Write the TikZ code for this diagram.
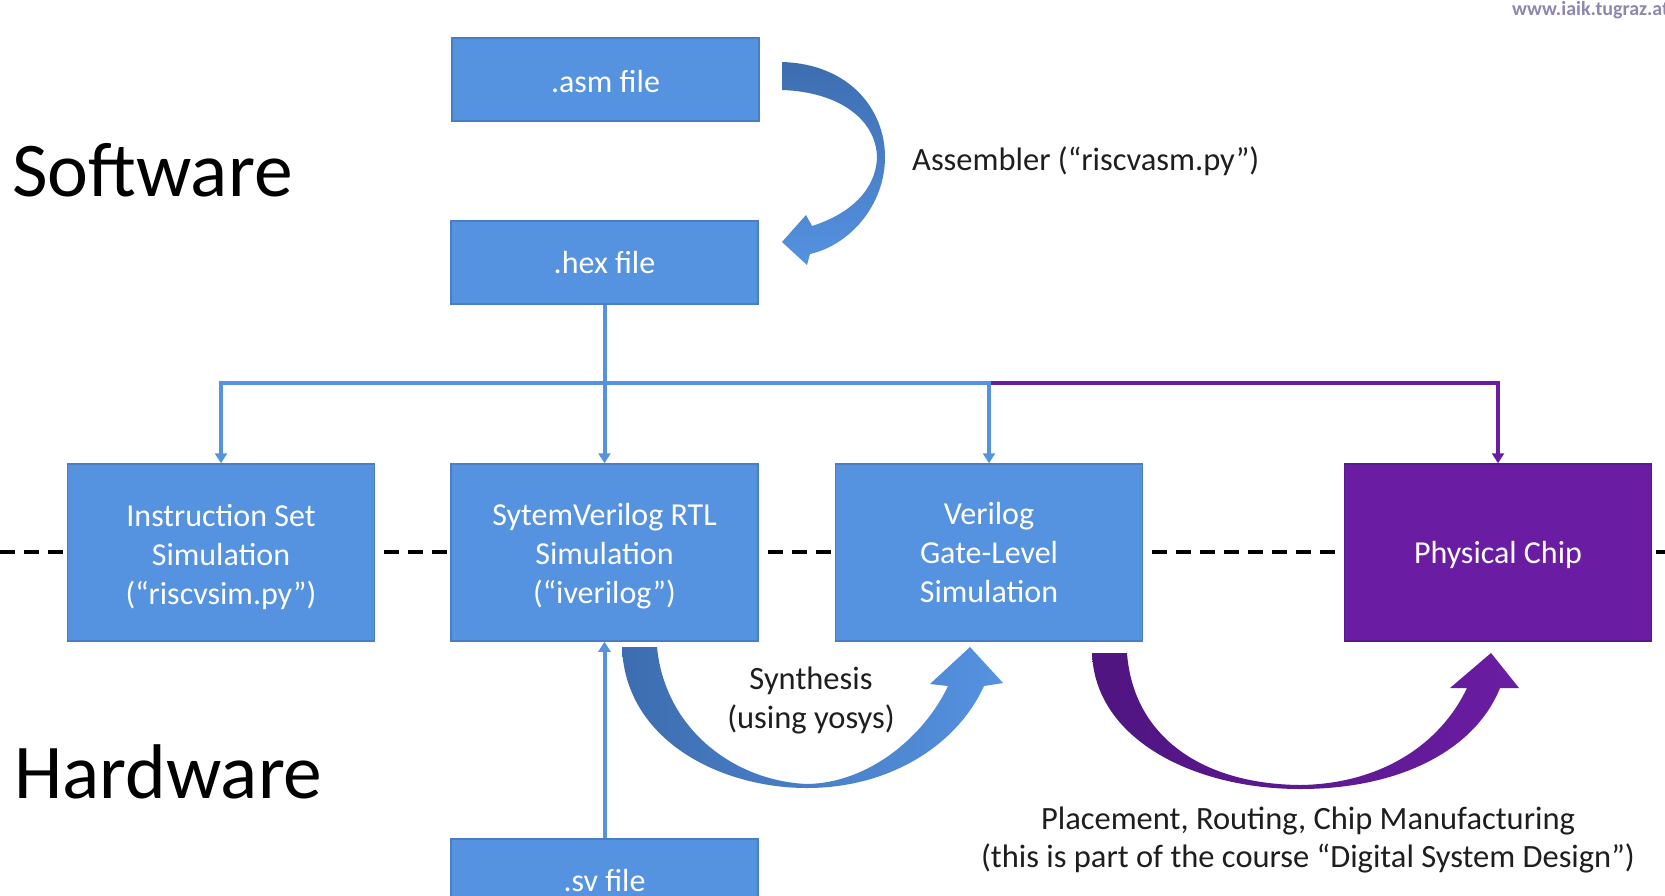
\documentclass[tikz,border=0pt]{standalone}
\usepackage{fontspec}
\setmainfont{Carlito}
\usetikzlibrary{arrows.meta}
\definecolor{boxblue}{HTML}{5592E0}
\definecolor{boxedge}{HTML}{4A7EC4}
\definecolor{darkblue}{HTML}{3D6DB0}
\definecolor{chippurple}{HTML}{6A1DA2}
\definecolor{darkpurple}{HTML}{4F1580}
\definecolor{webgray}{HTML}{8E87AE}
\definecolor{txt}{HTML}{1E1E1E}
\tikzset{
  flowbox/.style={fill=boxblue, draw=boxedge, line width=1.5pt, minimum width=307pt,
    inner sep=0pt, align=center, text=white, font=\fontsize{32}{39}\selectfont},
  smallbox/.style={flowbox, minimum height=83pt},
  bigbox/.style={flowbox, minimum height=177pt},
  chipbox/.style={bigbox, fill=chippurple, draw=chippurple!85!black},
  boxtext/.style={inner sep=0pt, align=center, text=white, font=\fontsize{32}{39}\selectfont},
  blueconn/.style={draw=boxblue, line width=4pt, -{Triangle[width=12pt,length=10pt]}},
  purpleconn/.style={draw=chippurple, line width=4pt, -{Triangle[width=12pt,length=10pt]}},
  bigtext/.style={font=\fontsize{77.5}{90}\selectfont, text=black, inner sep=0pt},
  labeltext/.style={font=\fontsize{32.5}{39}\selectfont, text=txt, align=center, inner sep=0pt},
}
\begin{document}
\begin{tikzpicture}[x=1pt,y=-1pt]
\useasboundingbox (0,0) rectangle (1665,895);
\clip (0,0) rectangle (1665,895);
\fill[white] (0,0) rectangle (1665,895);

% dashed separator
\draw[black, line width=3.5pt, dash pattern=on 15pt off 9pt] (0,552) -- (1665,552);

% boxes
\node[smallbox] (asm) at (605.5,79.5) {};
\node[boxtext, yshift=-2pt] (asmtxt) at (asm.center) {.asm file};
\node[smallbox] (hex) at (604.5,262.5) {.hex file};
\node[bigbox] (iss) at (221,552.5) {};
\node[boxtext, yshift=-5pt] (isstxt) at (iss.center) {Instruction Set\\Simulation\\(“riscvsim.py”)};
\node[bigbox] (rtl) at (604.5,552.5) {};
\node[boxtext, yshift=-4pt] (rtltxt) at (rtl.center) {SytemVerilog RTL\\Simulation\\(“iverilog”)};
\node[bigbox] (gl) at (989,552.5) {Verilog\\Gate-Level\\Simulation};
\node[chipbox] (pc) at (1498,552.5) {};
\node[boxtext, yshift=-2pt] (pctxt) at (pc.center) {Physical Chip};
\node[smallbox] (sv) at (604.5,880.5) {.sv file};

% connectors
\coordinate (jr) at (604.5,383);
\draw[blueconn] (hex.south) -- (rtl.north);
\draw[blueconn] (jr) -| (iss.north);
\draw[purpleconn] (gl.north |- jr) -| (pc.north);
\draw[blueconn] (jr) -| (gl.north);
\draw[blueconn] (sv.north) -- (rtl.south);

% assembler curved arrow
\shade[top color=darkblue, bottom color=boxblue, shading angle=0]
  (782,62) .. controls (850,64) and (885,110) .. (885,157)
  .. controls (885,205) and (850,245) .. (810,254)
  -- (807,265) -- (782,242) -- (806,215) -- (812,226)
  .. controls (850,214) and (876,190) .. (877,157)
  .. controls (876,120) and (840,92) .. (782,90) -- cycle;

% synthesis curved arrow
\shade[left color=darkblue, right color=boxblue]
  (622,647) .. controls (625,740) and (720,788) .. (807,788)
  .. controls (890,788) and (957,745) .. (984,686)
  -- (1003,683) -- (970,647) -- (930,684) -- (948,686)
  .. controls (925,735) and (870,783) .. (807,784)
  .. controls (735,781) and (665,730) .. (657,647) -- cycle;

% placement curved arrow
\shade[left color=darkpurple, right color=chippurple]
  (1092,653) .. controls (1095,740) and (1195,789) .. (1300,789)
  .. controls (1400,789) and (1475,750) .. (1500,688)
  -- (1519,688) -- (1491,653) -- (1450,688) -- (1467,688)
  .. controls (1440,745) and (1380,784) .. (1300,785)
  .. controls (1200,784) and (1133,735) .. (1127,653) -- cycle;

% labels
\node[bigtext, anchor=base west] (sw) at (12,196) {Software};
\node[bigtext, anchor=base west] (hw) at (14,798) {Hardware};
\node[labeltext, anchor=west] (asmlbl) at (912,161) {Assembler (“riscvasm.py”)};
\node[labeltext] (synlbl) at (811,700) {Synthesis\\(using yosys)};
\node[labeltext, font=\fontsize{32.5}{38}\selectfont] (pnrlbl) at (1308,840) {Placement, Routing, Chip Manufacturing\\(this is part of the course “Digital System Design”)};
\node[anchor=west, inner sep=0pt, text=webgray, font=\fontsize{20}{24}\selectfont\bfseries] (web) at (1512,10) {www.iaik.tugraz.at};
\end{tikzpicture}
\end{document}
